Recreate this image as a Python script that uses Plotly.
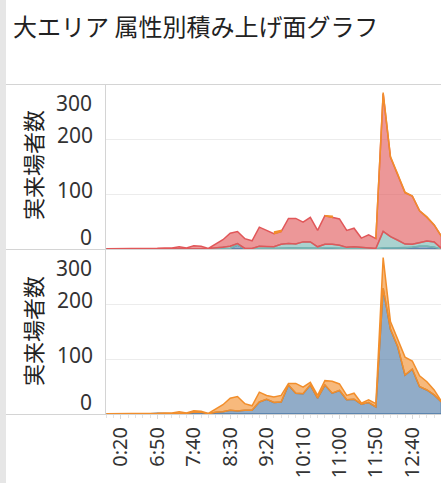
import plotly.graph_objects as go

# ---------------- data ----------------
times = ["0:00", "0:10", "0:20", "6:10", "6:20", "6:30", "6:40"]
h, m = 6, 50
for _ in range(41):
    times.append(f"{h}:{m:02d}")
    m += 10
    if m >= 60:
        h += 1
        m -= 60
# times[7] == "6:50", times[47] == "13:30"

# top panel (attribute A) stacked from the bottom
top_blue = [0, 0, 0, 0, 0, 0, 0, 0, 0, 0, 0, 0, 0, 0, 0, 0, 0, 1, 7, 0.5, 0, 1, 1, 1, 2, 2,
            2, 2, 2, 1, 2, 2, 2, 1, 2, 1, 1, 0.5, 2, 2, 2, 2, 3, 5, 5, 3, 0.5]
top_teal = [0, 0, 0, 0, 0, 0, 0, 0, 0, 0, 0, 0, 0, 0, 0.5, 2, 3, 4, 3, 0.5, 1, 4, 3, 3, 6.5, 8,
            7, 11, 11, 3, 6.5, 6.5, 5, 2, 2, 2, 1, 0.5, 30, 20.5, 14.5, 7, 5.5, 6.5, 9.6, 10, 0.5]
top_red = [0.5, 0.5, 0.5, 0.5, 0.5, 0.5, 1, 1.5, 2, 2, 4, 2, 6, 5, 0.5, 7, 14, 24, 22, 18, 14,
           35, 30, 24, 23.5, 46, 47, 36, 45, 30, 52.5, 49.5, 48, 31, 34, 17, 24, 18, 252, 145.5,
           120.5, 94, 88.5, 58.5, 43.4, 31, 22]
top_orange = [None] * 23 + [3, 2] + [None] * 5 + [0, 2] + [None] * 5 + \
             [0, 2, 1, 1, 1, 0, 0, 1, 0, 0]

# bottom panel (attribute B)
bot_blue = [0, 0, 0, 0, 0, 0, 0.5, 1.5, 0.5, 0.5, 1, 1, 3, 3, 0.5, 3, 4, 7, 5.5, 7, 7, 22, 27,
            21, 22, 53, 38, 37, 53, 29, 53, 38, 43, 26, 27, 18, 21, 13, 230, 155, 123, 71, 82,
            50, 44, 35, 22]
bot_orange = [0.5, 0.5, 0.5, 0.5, 0.5, 0.5, 0.5, 0, 1.5, 1.5, 3, 1, 3, 2, 0.5, 6, 13, 22, 26.5,
              12, 8, 18, 7, 10, 12, 3, 18, 12, 5, 5, 8, 22, 12, 8, 11, 2, 5, 6, 56, 14, 15, 33,
              15, 20, 15, 9, 1]

tick_idx = list(range(2, 48, 5))
y_ticks = [100, 200]
y_title = "実来場者数"
title = "大エリア 属性別積み上げ面グラフ"

# ---------------- style ----------------
W, H = 441, 483
COL = {
    "blue": ("#4e79a7", "rgba(78,121,167,0.62)"),
    "teal": ("#76b7b2", "rgba(118,183,178,0.62)"),
    "red": ("#e15759", "rgba(225,87,89,0.62)"),
    "orange": ("#f28e2b", "rgba(242,142,43,0.62)"),
}
NUM_FONT = "Noto Sans, Open Sans, sans-serif"
CJK_FONT = "Noto Sans CJK JP, Noto Sans, sans-serif"


def px_x(p):
    return p / W


def px_y(p):
    return 1 - p / H


fig = go.Figure()


def add_band(values, lower, color, yaxis):
    """Add stacked band(s); None values are gaps. Returns new cumulative."""
    n = len(values)
    upper = [lower[i] + (values[i] if values[i] is not None else 0) for i in range(n)]
    runs, cur = [], []
    for i in range(n):
        if values[i] is None:
            if cur:
                runs.append(cur)
            cur = []
        else:
            cur.append(i)
    if cur:
        runs.append(cur)
    line_c, fill_c = COL[color]
    for run in runs:
        xs = run + run[::-1]
        ys = [upper[i] for i in run] + [lower[i] for i in run[::-1]]
        fig.add_trace(go.Scatter(
            x=xs, y=ys, mode="lines", fill="toself", fillcolor=fill_c,
            line=dict(color=line_c, width=1.5), yaxis=yaxis, xaxis="x",
            hoverinfo="skip", showlegend=False))
    return upper


n = len(top_red)
base = [0] * n
c = add_band(top_blue, base, "blue", "y2")
c = add_band(top_teal, c, "teal", "y2")
c = add_band(top_red, c, "red", "y2")
c = add_band(top_orange, c, "orange", "y2")

c = add_band(bot_blue, base, "blue", "y")
c = add_band(bot_orange, c, "orange", "y")

x_left = 106
fig.update_layout(
    width=W, height=H,
    margin=dict(l=0, r=0, t=0, b=0),
    paper_bgcolor="white", plot_bgcolor="white",
    showlegend=False,
    xaxis=dict(
        domain=[px_x(x_left), 1], range=[-0.05, 45.94], anchor="y",
        tickmode="array", tickvals=tick_idx, ticktext=[times[i] for i in tick_idx],
        tickangle=-90, ticks="outside", ticklen=4, tickcolor="#d9d9d9",
        minor=dict(tickvals=list(range(0, 48)), ticks="outside", ticklen=3,
                   tickcolor="#e3e3e3"),
        tickfont=dict(family=NUM_FONT, size=20, color="#333"),
        showgrid=False, zeroline=False, showline=False, automargin=False,
    ),
    yaxis=dict(
        domain=[px_y(414), px_y(250)], range=[0, 300], anchor="x",
        tickvals=y_ticks, ticktext=[str(v) for v in y_ticks],
        showgrid=True, gridcolor="#ececec", gridwidth=1, zeroline=False,
        showline=False, ticks="", ticklabelstandoff=12, ticklabelshift=-4,
        tickfont=dict(family=NUM_FONT, size=21, color="#333"), automargin=False,
    ),
    yaxis2=dict(
        domain=[px_y(249), px_y(85)], range=[0, 300], anchor="x",
        tickvals=y_ticks, ticktext=[str(v) for v in y_ticks],
        showgrid=True, gridcolor="#ececec", gridwidth=1, zeroline=False,
        showline=False, ticks="", ticklabelstandoff=12, ticklabelshift=-4,
        tickfont=dict(family=NUM_FONT, size=21, color="#333"), automargin=False,
    ),
)

ann = []
ann.append(dict(text=title, x=px_x(11), y=px_y(26), xref="paper", yref="paper",
                xanchor="left", yanchor="middle", showarrow=False,
                font=dict(family=CJK_FONT, size=24, color="#222")))
for yref, cy in (("y2", 165), ("y", 331)):
    ann.append(dict(text=y_title, x=px_x(32), y=px_y(cy), xref="paper", yref="paper",
                    xanchor="center", yanchor="middle", textangle=-90, showarrow=False,
                    font=dict(family=CJK_FONT, size=22, color="#222")))
    ann.append(dict(text="0", x=px_x(94), y=0, xref="paper", yref=yref, yshift=12,
                    xanchor="right", yanchor="middle", showarrow=False,
                    font=dict(family=NUM_FONT, size=21, color="#333")))
    ann.append(dict(text="300", x=px_x(94), y=300, xref="paper", yref=yref, yshift=-18,
                    xanchor="right", yanchor="middle", showarrow=False,
                    font=dict(family=NUM_FONT, size=21, color="#333")))
fig.update_layout(annotations=ann)

LINE = "#d4d4d4"
shapes = [
    dict(type="rect", xref="paper", yref="paper", x0=0, x1=px_x(6), y0=0, y1=1,
         fillcolor="#e6e6e6", line=dict(width=0), layer="above"),
    dict(type="line", xref="paper", yref="paper", x0=px_x(6), x1=1,
         y0=px_y(84.5), y1=px_y(84.5), line=dict(color=LINE, width=1), layer="above"),
    dict(type="line", xref="paper", yref="paper", x0=px_x(6), x1=1,
         y0=px_y(249.5), y1=px_y(249.5), line=dict(color=LINE, width=1), layer="above"),
    dict(type="line", xref="paper", yref="paper", x0=px_x(6), x1=1,
         y0=px_y(414.5), y1=px_y(414.5), line=dict(color=LINE, width=1), layer="above"),
    dict(type="line", xref="paper", yref="paper", x0=px_x(105.5), x1=px_x(105.5),
         y0=px_y(84.5), y1=px_y(414.5), line=dict(color=LINE, width=1), layer="above"),
]
fig.update_layout(shapes=shapes)

fig.write_html(
    "out.html",
    config={"displayModeBar": False},
    post_script="document.body.style.margin='0';document.body.style.overflow='hidden';",
)
